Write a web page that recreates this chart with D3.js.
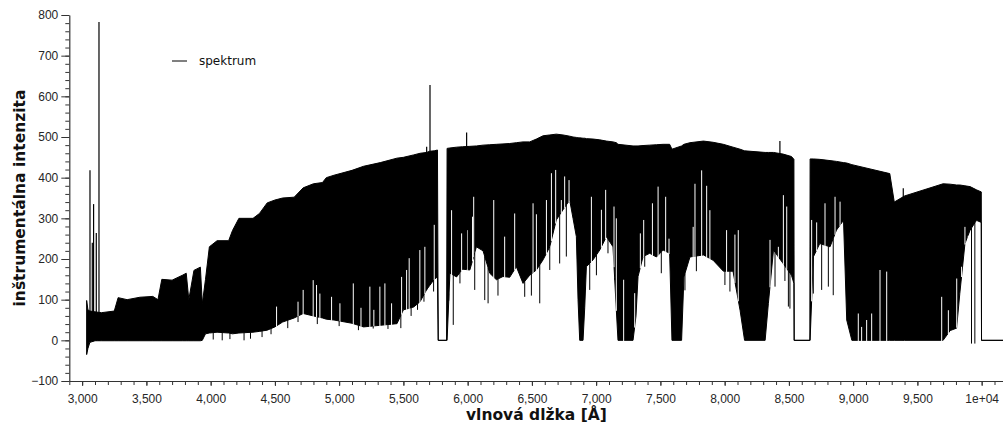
<!DOCTYPE html>
<html>
<head>
<meta charset="utf-8">
<script src="https://cdn.jsdelivr.net/npm/d3@7"></script>
<style>
  body { margin: 0; background: #fff; }
  svg { display: block; font-family: "DejaVu Sans", sans-serif; }
</style>
</head>
<body>
<svg id="chart" width="1003" height="428"></svg>
<script>
// Spectrum envelope: wavelength [Å], top and bottom of the black band
const wave = [3035, 3045, 3060, 3100, 3150, 3250, 3280, 3350, 3450, 3550, 3590, 3620, 3700, 3780, 3810,
  3830, 3870, 3920, 3935, 3960, 3990, 4050, 4140, 4170, 4220, 4330, 4380, 4440, 4500, 4560, 4650,
  4720, 4800, 4870, 4900, 4960, 5100, 5190, 5320, 5450, 5500, 5580, 5630, 5680, 5705, 5740, 5765,
  5771, 5836, 5840, 5862, 5914, 5960, 6017, 6068, 6120, 6172, 6224, 6275, 6327, 6379, 6431, 6483,
  6535, 6587, 6639, 6690, 6742, 6794, 6820, 6846, 6859, 6872, 6898, 6911, 6924, 6976, 7028, 7080,
  7131, 7157, 7170, 7287, 7310, 7326, 7365, 7417, 7469, 7521, 7572, 7590, 7665, 7683, 7730, 7835,
  7910, 7990, 8065, 8120, 8155, 8315, 8340, 8380, 8455, 8520, 8539, 8541, 8663, 8665, 8690, 8740,
  8820, 8870, 8925, 8950, 8990, 9285, 9320, 9400, 9700, 9755, 9805, 9830, 9870, 9910, 9960, 9997,
  9999, 10170];
const upper = [98, 75, 72, 70, 68, 72, 105, 100, 106, 108, 100, 150, 148, 160, 165,
  100, 172, 180, 90, 150, 230, 245, 245, 270, 300, 300, 312, 338, 345, 350, 352,
  375, 385, 388, 400, 406, 418, 428, 437, 448, 450, 456, 460, 462, 465, 466, 468,
  0, 0, 472, 473, 475, 476, 477, 478, 480, 481, 482, 483, 484, 486, 488, 488,
  495, 503, 505, 507, 505, 502, 500, 499, 498, 498, 497, 497, 496, 495, 493, 490,
  488, 486, 482, 478, 478, 478, 479, 480, 481, 482, 482, 470, 478, 482, 486, 490,
  487, 482, 475, 470, 466, 462, 462, 462, 458, 452, 445, 0, 0, 446, 446, 445,
  442, 440, 437, 436, 432, 410, 340, 355, 385, 384, 382, 382, 380, 378, 370, 365,
  0, 0];
const lower = [-35, -20, -5, -1, -1, -1, -1, -1, -1, -1, -1, -1, -1, -1, -1,
  -1, -1, -1, 0, 16, 18, 20, 18, 16, 18, 20, 22, 25, 33, 45, 55,
  66, 60, 55, 52, 50, 42, 33, 37, 41, 75, 82, 95, 124, 135, 150, 156,
  0, 0, 0, 165, 156, 175, 173, 230, 220, 165, 149, 157, 155, 181, 140, 160,
  173, 198, 230, 296, 321, 345, 300, 255, 100, 0, 0, 80, 181, 198, 222, 255,
  230, 75, 0, 0, 60, 157, 206, 214, 205, 222, 214, 0, 0, 156, 205, 210,
  197, 170, 170, 74, 0, 0, 90, 222, 189, 160, 140, 0, 0, 0, 205, 238,
  230, 271, 295, 50, 0, 0, 0, 0, 0, 24, 30, 115, 238, 271, 295, 290,
  0, 0];

// narrow lines sticking out above the band [wavelength, intensity]
const emissionLines = [[3061, 418], [3079, 240], [3089, 335], [3110, 264], [3131, 783],
  [5681, 476], [5707, 628], [5992, 511], [8430, 490], [9390, 374]];

// narrow dark lines reaching below the band
const darkLines = [[4020, 2], [4090, 0], [4150, 3], [4260, 0], [4310, 4], [4400, 8], [4470, 15],
  [4600, 30], [4680, 45], [4830, 40], [5000, 35], [5150, 25], [5265, 29], [5380, 28], [5480, 30],
  [5560, 60], [5610, 75], [5660, 95], [5735, 120], [5853, 115], [5888, 38], [5940, 140], [6055, 124],
  [6133, 99], [6159, 91], [6236, 110], [6444, 107], [6496, 110], [6561, 91], [6639, 173], [6716, 189],
  [6768, 206], [6950, 124], [7002, 160], [7092, 214], [7144, 149], [7378, 181], [7507, 165],
  [7691, 123], [7780, 170], [8002, 136], [8041, 120], [8392, 132], [8469, 146], [8496, 83],
  [8508, 78], [8690, 115], [8755, 124], [8807, 132], [8845, 111], [9921, -8], [9947, -8]];

// narrow gaps reaching up into the band
const lightLines = [[4513, 83], [4680, 95], [4720, 124], [4798, 148], [4824, 136], [4850, 115],
  [4941, 107], [5006, 91], [5110, 140], [5170, 80], [5239, 132], [5270, 75], [5317, 132], [5356, 140],
  [5408, 91], [5486, 156], [5525, 173], [5545, 202], [5628, 222], [5667, 230], [5740, 284],
  [5875, 320], [5953, 263], [5997, 271], [6038, 304], [6047, 353], [6203, 345], [6288, 255],
  [6366, 312], [6509, 337], [6535, 310], [6613, 345], [6652, 411], [6685, 419], [6729, 345],
  [6755, 403], [6789, 394], [6807, 320], [6963, 353], [7041, 321], [7074, 370], [7139, 329],
  [7157, 300], [7214, 149], [7300, 116], [7344, 263], [7370, 296], [7438, 337], [7482, 378],
  [7541, 353], [7567, 250], [7755, 279], [7769, 385], [7821, 418], [7860, 380], [7885, 320],
  [8015, 271], [8080, 260], [8106, 271], [8353, 247], [8418, 230], [8457, 357], [8483, 329],
  [8677, 296], [8716, 290], [8781, 337], [8859, 353], [8898, 341], [9040, 66], [9066, 33],
  [9105, 50], [9144, 66], [9209, 173], [9261, 169], [9689, 107], [9741, 74], [9806, 152],
  [9844, 181], [9870, 279], [9896, 250]];

const xTicks = [3000, 3500, 4000, 4500, 5000, 5500, 6000, 6500, 7000, 7500, 8000, 8500, 9000, 9500, 10000];
const xTickLabels = ["3,000", "3,500", "4,000", "4,500", "5,000", "5,500", "6,000", "6,500",
  "7,000", "7,500", "8,000", "8,500", "9,000", "9,500", "1e+04"];
const yTicks = [-100, 0, 100, 200, 300, 400, 500, 600, 700, 800];

const svg = d3.select("#chart");
const box = { left: 69.3, right: 1003.5, top: 15, bottom: 381 };

const x = d3.scaleLinear().domain([2900, 10170]).range([box.left, box.right]);
const y = d3.scaleLinear().domain([-100, 800]).range([box.bottom, box.top]);

// lookup of the band bottom at any wavelength
const lowAt = d3.scaleLinear().domain(wave).range(lower);

const spec = wave.map((w, i) => ({ w: w, hi: upper[i], lo: lower[i] }));

const area = d3.area()
  .x(d => x(d.w))
  .y0(d => y(d.lo))
  .y1(d => y(d.hi));

const plot = svg.append("g");

plot.append("path")
  .datum(spec)
  .attr("d", area)
  .attr("fill", "#000")
  .attr("stroke", "#000")
  .attr("stroke-width", 1);

plot.selectAll(".light")
  .data(lightLines)
  .enter()
  .append("line")
  .attr("x1", d => x(d[0]))
  .attr("x2", d => x(d[0]))
  .attr("y1", d => y(lowAt(d[0])) + 1)
  .attr("y2", d => y(d[1]))
  .attr("stroke", "#fff")
  .attr("stroke-width", 1);

plot.selectAll(".dark")
  .data(darkLines)
  .enter()
  .append("line")
  .attr("x1", d => x(d[0]))
  .attr("x2", d => x(d[0]))
  .attr("y1", d => y(lowAt(d[0])))
  .attr("y2", d => y(d[1]))
  .attr("stroke", "#000")
  .attr("stroke-width", 1);

plot.selectAll(".emission")
  .data(emissionLines)
  .enter()
  .append("line")
  .attr("x1", d => x(d[0]))
  .attr("x2", d => x(d[0]))
  .attr("y1", d => y(lowAt(d[0])))
  .attr("y2", d => y(d[1]))
  .attr("stroke", "#000")
  .attr("stroke-width", 1.2);

// Axes: labelled major ticks plus unlabelled minor ticks
const xMinor = d3.range(2900, 10170, 100);
const yMinor = d3.range(-100, 801, 20);

function styleAxis(g) {
  g.selectAll("path, line").attr("stroke", "#333");
  g.selectAll("text").attr("fill", "#262626").style("font-size", "12px");
}

svg.append("g")
  .attr("transform", "translate(0," + box.bottom + ")")
  .call(d3.axisBottom(x).tickValues(xMinor).tickFormat("").tickSize(4).tickSizeOuter(0))
  .call(styleAxis);

svg.append("g")
  .attr("transform", "translate(0," + box.bottom + ")")
  .call(d3.axisBottom(x).tickValues(xTicks).tickFormat((d, i) => xTickLabels[i])
    .tickSize(5).tickPadding(8).tickSizeOuter(0))
  .call(styleAxis)
  .call(g => g.select(".domain").remove());

svg.append("g")
  .attr("transform", "translate(" + box.left + ",0)")
  .call(d3.axisLeft(y).tickValues(yMinor).tickFormat("").tickSize(4).tickSizeOuter(0))
  .call(styleAxis);

svg.append("g")
  .attr("transform", "translate(" + box.left + ",0)")
  .call(d3.axisLeft(y).tickValues(yTicks).tickSize(8).tickPadding(3).tickSizeOuter(0))
  .call(styleAxis)
  .call(g => g.select(".domain").remove());

svg.selectAll(".domain").attr("stroke-width", 1.2);

// axis titles
svg.append("text")
  .attr("x", (box.left + box.right) / 2)
  .attr("y", 420)
  .attr("text-anchor", "middle")
  .style("font-size", "15.5px")
  .style("font-weight", "bold")
  .attr("fill", "#111")
  .text("vlnová dlžka [Å]");

svg.append("text")
  .attr("transform", "rotate(-90)")
  .attr("x", -(box.top + box.bottom) / 2)
  .attr("y", 25)
  .attr("text-anchor", "middle")
  .style("font-size", "15.5px")
  .style("font-weight", "bold")
  .attr("fill", "#111")
  .text("inštrumentálna intenzita");

// legend
const legend = svg.append("g").attr("transform", "translate(172,61)");
legend.append("line")
  .attr("x1", 0).attr("x2", 15)
  .attr("stroke", "#000")
  .attr("stroke-width", 1);
legend.append("text")
  .attr("x", 27)
  .attr("y", 4)
  .style("font-size", "12px")
  .attr("fill", "#111")
  .text("spektrum");
</script>
</body>
</html>
